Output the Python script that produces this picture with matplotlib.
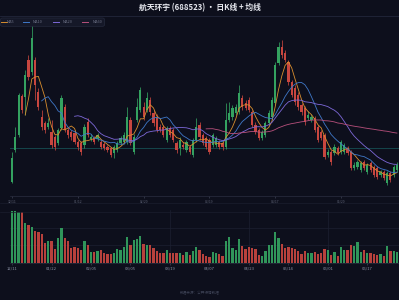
import matplotlib
matplotlib.use('Agg')
import matplotlib.pyplot as plt
import numpy as np
import pandas as pd
from matplotlib.lines import Line2D
from matplotlib.patches import FancyBboxPatch

plt.rcParams['font.family'] = ['Noto Sans CJK SC', 'DejaVu Sans']

title = '航天环宇 (688523) · 日K线 + 均线'

opens = [11.8, 15.0, 16.5, 20.4, 20.3, 24.0, 22.8, 24.0, 20.8, 18.3,
         17.7, 17.3, 16.8, 16.3, 15.7, 17.2, 19.3, 17.0, 16.8, 16.7,
         15.8, 15.7, 15.5, 17.8, 16.1, 16.2, 16.1, 15.8, 15.6, 15.3,
         15.2, 14.7, 15.0, 15.7, 15.8, 15.8, 18.0, 14.8, 18.0, 19.0,
         19.3, 19.0, 20.0, 18.7, 18.3, 17.3, 17.3, 16.0, 17.2, 17.0,
         15.7, 15.2, 15.5, 15.0, 15.3, 14.5, 16.0, 17.5, 16.5, 16.2,
         16.0, 15.5, 15.5, 15.8, 15.7, 15.3, 18.0, 18.3, 18.7, 18.8,
         20.2, 19.7, 20.0, 18.8, 17.5, 17.0, 16.2, 16.5, 17.7, 18.3,
         19.7, 23.7, 25.3, 24.7, 23.8, 21.8, 21.2, 20.5, 19.5, 19.2,
         18.2, 18.0, 18.2, 17.3, 16.8, 16.5, 14.5, 14.8, 14.7, 15.2,
         14.8, 14.8, 15.2, 14.8, 13.2, 13.3, 13.0, 13.8, 12.8, 13.7,
         13.3, 13.2, 12.5, 12.8, 11.7, 12.7, 12.5, 13.0]
closes = [14.2, 16.3, 20.5, 19.0, 22.5, 22.3, 26.2, 21.5, 19.3, 17.3,
          17.0, 17.7, 15.5, 15.3, 17.0, 20.2, 17.0, 16.5, 16.3, 15.8,
          15.3, 14.8, 17.3, 16.5, 16.3, 15.8, 16.5, 15.3, 15.2, 15.0,
          14.5, 15.3, 15.7, 16.2, 16.5, 18.3, 15.7, 16.3, 19.3, 21.0,
          18.3, 20.2, 18.8, 17.7, 17.0, 17.0, 16.5, 17.2, 16.5, 16.0,
          15.0, 16.0, 15.3, 15.8, 14.8, 16.0, 17.3, 16.3, 15.7, 15.3,
          14.8, 16.5, 16.2, 15.3, 15.3, 18.0, 18.7, 19.2, 19.3, 20.7,
          19.3, 19.2, 19.0, 17.5, 16.8, 16.2, 16.8, 17.7, 18.7, 20.0,
          23.5, 25.3, 24.5, 24.0, 21.8, 20.5, 19.8, 19.3, 18.8, 17.8,
          18.5, 18.3, 17.0, 16.0, 16.2, 14.3, 14.8, 13.8, 15.3, 14.7,
          15.8, 15.5, 14.7, 13.2, 13.5, 13.8, 13.7, 13.2, 13.5, 13.0,
          12.5, 12.3, 12.8, 12.2, 12.7, 12.0, 13.3, 13.5]
highs = [14.8, 17.3, 20.7, 20.6, 23.0, 24.5, 27.5, 24.3, 21.2, 19.0,
         17.9, 18.2, 18.0, 16.5, 17.2, 20.5, 19.6, 17.3, 17.0, 17.0,
         16.0, 15.9, 17.6, 18.2, 16.6, 16.4, 16.7, 16.0, 15.8, 15.5,
         15.3, 15.5, 15.9, 16.4, 16.8, 19.3, 18.3, 16.6, 20.2, 21.3,
         19.8, 20.8, 20.3, 19.0, 18.6, 17.6, 17.5, 17.4, 17.4, 17.2,
         15.9, 16.3, 15.8, 16.0, 15.5, 16.2, 18.2, 17.8, 16.7, 16.4,
         16.2, 16.7, 16.4, 16.0, 15.8, 19.7, 19.8, 19.5, 19.6, 21.5,
         20.5, 20.0, 20.3, 19.0, 17.8, 17.2, 17.0, 17.9, 19.0, 20.3,
         23.8, 25.8, 26.0, 25.0, 24.0, 22.0, 21.5, 20.8, 19.7, 19.4,
         18.9, 18.6, 18.4, 17.5, 17.0, 16.7, 15.1, 15.0, 15.6, 15.4,
         16.0, 15.7, 15.4, 15.0, 13.8, 14.0, 13.9, 14.0, 13.7, 13.9,
         13.5, 13.4, 13.0, 13.0, 12.9, 12.9, 13.5, 13.8]
lows = [11.7, 14.8, 16.3, 18.7, 18.5, 22.0, 22.5, 20.0, 19.0, 17.0,
        16.7, 17.1, 15.2, 15.0, 15.5, 17.0, 16.8, 16.2, 16.0, 15.6,
        15.0, 14.5, 15.2, 16.3, 15.9, 15.6, 15.9, 15.1, 15.0, 14.8,
        14.3, 14.2, 14.8, 15.5, 15.6, 15.6, 15.5, 14.6, 17.8, 18.8,
        18.0, 18.8, 18.5, 17.4, 16.8, 16.8, 16.3, 15.8, 16.3, 15.8,
        14.7, 14.5, 15.1, 14.8, 14.6, 14.3, 15.8, 16.0, 15.5, 15.1,
        14.6, 15.3, 15.3, 15.1, 15.0, 15.1, 17.8, 18.0, 18.5, 18.6,
        19.0, 19.0, 18.8, 17.3, 16.6, 16.0, 16.0, 16.3, 17.5, 18.0,
        19.5, 23.5, 24.2, 23.8, 21.5, 20.3, 19.5, 19.0, 18.5, 17.5,
        18.0, 17.8, 16.8, 15.8, 16.0, 14.1, 14.3, 13.5, 14.5, 14.5,
        14.6, 14.6, 14.5, 13.0, 13.0, 13.1, 12.8, 13.0, 12.6, 12.8,
        12.3, 12.1, 12.3, 12.0, 11.5, 11.8, 12.3, 12.8]
volumes = [52.0, 51.7, 50.7, 50.7, 40.0, 37.7, 36.0, 32.0, 31.0, 28.7,
           20.0, 22.0, 22.0, 13.7, 24.3, 35.0, 24.3, 21.7, 14.3, 16.0,
           15.0, 12.7, 21.7, 17.7, 11.0, 11.0, 12.0, 12.7, 9.3, 8.7,
           8.7, 10.0, 13.3, 12.7, 16.0, 25.3, 17.7, 22.7, 23.3, 26.7,
           18.7, 17.7, 17.7, 14.3, 12.0, 9.3, 10.0, 12.7, 10.0, 10.0,
           9.3, 10.0, 7.7, 11.0, 7.7, 11.7, 16.0, 12.7, 8.7, 6.7,
           6.0, 11.0, 9.3, 8.7, 6.7, 21.7, 26.0, 14.3, 12.7, 24.0,
           17.0, 13.7, 15.3, 14.3, 13.7, 7.7, 6.7, 12.0, 17.3, 17.7,
           30.3, 24.3, 18.3, 14.3, 16.0, 15.0, 13.7, 11.7, 8.7, 12.0,
           9.3, 10.0, 11.0, 8.7, 9.3, 13.3, 12.7, 7.7, 11.0, 6.7,
           16.0, 12.7, 12.7, 17.7, 16.7, 20.7, 11.0, 12.7, 10.0, 10.0,
           8.7, 7.7, 8.7, 6.7, 16.7, 11.7, 11.7, 11.0]

ref_price = 15.2
ma_periods = [5, 10, 20, 60]
ma_labels = ['MA5', 'MA10', 'MA20', 'MA60']
ma_colors = ['#d98e2e', '#3f78c8', '#7d68d8', '#b8507c']

main_tick_pos = [0, 20, 40, 60, 80, 100]
main_tick_labels = ['12/11', '01/12', '02/20', '03/19', '04/17', '05/20']
vol_tick_pos = [0, 12, 24, 36, 48, 60, 72, 84, 96, 108]
vol_tick_labels = ['12/11', '01/22', '02/05', '03/05', '03/19', '04/07',
                   '04/23', '05/14', '06/01', '06/17']

UP = '#34a260'
DOWN = '#c7463f'
BG = '#0d0f1c'
GRID = '#1c2031'
TXT = '#8a8fa3'

W, H = 399, 300
fig = plt.figure(figsize=(W / 100, H / 100), dpi=100)
fig.patch.set_facecolor(BG)

def fx(px):
    return px / W

def fy(py):
    return 1 - py / H

n = len(closes)
x = np.arange(n)
o = np.array(opens); c = np.array(closes)
hi = np.array(highs); lo = np.array(lows)
up = c >= o
cols = np.where(up, UP, DOWN)

left_px = 10.4
width_px = 388.2
ax = fig.add_axes([fx(left_px), fy(196), width_px / W, 178 / H])
axv = fig.add_axes([fx(left_px), fy(262.7), width_px / W, 52.7 / H])
for a in (ax, axv):
    a.set_facecolor(BG)
    for s in a.spines.values():
        s.set_visible(False)
    a.set_xlim(-0.5, n - 0.5)

# main chart
ax.set_ylim(10.4, 28.2)
ax.vlines(x, lo, hi, colors=cols, linewidth=0.55, zorder=2)
body_h = np.maximum(np.abs(c - o), 0.06)
ax.bar(x, body_h, bottom=np.minimum(o, c), width=0.68, color=cols,
       linewidth=0, zorder=3)
cs = pd.Series(closes)
for p, col in zip(ma_periods, ma_colors):
    ax.plot(x, cs.rolling(p).mean(), color=col, linewidth=0.6, zorder=4)
ax.axhline(ref_price, color='#1f8f8a', linewidth=0.6, linestyle=(0, (1.2, 1.2)), zorder=1)
ax.set_yticks([])
ax.set_xticks(main_tick_pos)
ax.set_xticklabels(main_tick_labels, fontsize=2.4, color='#5d6275')
ax.tick_params(axis='x', length=1.5, width=0.4, color='#4a4f62', pad=1)
ax.spines['bottom'].set_visible(True)
ax.spines['bottom'].set_color('#2a2e40')
ax.spines['bottom'].set_linewidth(0.5)

# volume chart
axv.set_ylim(0, 52.8)
axv.bar(x, volumes, width=0.7, color=cols, linewidth=0, alpha=0.92, zorder=3)
axv.set_yticks([17.6, 35.2])
axv.set_yticklabels([])
axv.tick_params(axis='y', length=0)
axv.grid(axis='y', color=GRID, linewidth=0.5, zorder=0)
axv.set_xticks(vol_tick_pos)
axv.set_xticklabels(vol_tick_labels, fontsize=3.0, color=TXT)
axv.tick_params(axis='x', length=1.5, width=0.4, color='#4a4f62', pad=1.5)
for p in vol_tick_pos[4::2]:
    axv.axvline(p, color=GRID, linewidth=0.5, zorder=0)
axv.spines['bottom'].set_visible(True)
axv.spines['bottom'].set_color('#2a2e40')
axv.spines['bottom'].set_linewidth(0.5)

# separators
fig.add_artist(Line2D([0, 1], [fy(16), fy(16)], color='#22263a', linewidth=0.6))
fig.add_artist(Line2D([0, 1], [fy(203), fy(203)], color='#1a1e2e', linewidth=0.5))
fig.add_artist(Line2D([0, 1], [fy(211.5), fy(211.5)], color='#1a1e2e', linewidth=0.5))

# title
fig.text(0.5, fy(8), title, ha='center', va='center', fontsize=5.6,
         fontweight='bold', color='#e6e8ef')

# legend
box = FancyBboxPatch((fx(0.5), fy(26.3)), fx(104), 8.3 / H,
                     boxstyle='round,pad=0,rounding_size=0.005',
                     transform=fig.transFigure, facecolor='#151828',
                     edgecolor='#252a3d', linewidth=0.5)
fig.add_artist(box)
leg_line_x = [1, 23, 53, 82]
leg_text_x = [6.5, 33, 63, 93]
for lx, tx, lab, col in zip(leg_line_x, leg_text_x, ma_labels, ma_colors):
    fig.add_artist(Line2D([fx(lx), fx(lx + 6)], [fy(22), fy(22)], color=col, linewidth=0.7))
    fig.text(fx(tx), fy(22), lab, fontsize=2.8, color='#6c7185', va='center', ha='left')

# footer
fig.text(0.5, fy(293), '数据来源：公开行情数据', ha='center', va='center',
         fontsize=2.6, color='#3c4154')

fig.savefig('out.png', dpi=100, facecolor=BG)
